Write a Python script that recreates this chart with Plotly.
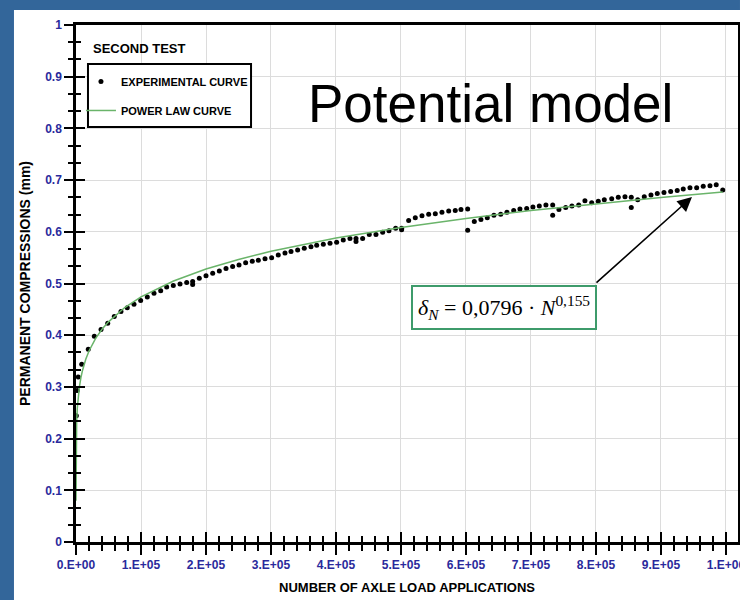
import plotly.graph_objects as go

# ---------------- data ----------------
exp_n = [500, 2000, 3500, 8800, 18900, 28200, 38500, 48800, 58900, 69200, 78900, 89200,
         99500, 109700, 120000, 130300, 139500, 149700, 160000, 170300, 179500, 179500,
         189700, 200000, 210300, 220500, 230800, 241000, 250800, 261000, 271200, 280500,
         290800, 301000, 311200, 321500, 330800, 341000, 351200, 361500, 370300, 380500,
         390800, 401000, 411200, 421500, 430800, 430800, 441000, 451200, 461500, 471800,
         481500, 491800, 501000, 501000, 511800, 522000, 532300, 542600, 552800, 563000,
         573400, 583500, 592300, 602600, 602600, 612800, 623000, 632800, 643000, 653400,
         663000, 673400, 683000, 693400, 703000, 712800, 723000, 733400, 733400, 743000,
         753400, 763000, 773400, 783000, 793400, 803500, 812800, 824200, 834300, 844600,
         854300, 854300, 864200, 874300, 884600, 894300, 904600, 914900, 925000, 934300,
         944600, 954900, 965000, 975400, 985000, 995000]
exp_d = [0.244, 0.293, 0.319, 0.344, 0.373, 0.398, 0.411, 0.423, 0.436, 0.446, 0.453, 0.460,
         0.467, 0.474, 0.481, 0.486, 0.493, 0.496, 0.499, 0.502, 0.504, 0.498,
         0.510, 0.515, 0.520, 0.524, 0.529, 0.533, 0.536, 0.540, 0.543, 0.545,
         0.548, 0.550, 0.555, 0.559, 0.562, 0.565, 0.568, 0.571, 0.574, 0.576,
         0.578, 0.580, 0.584, 0.587, 0.587, 0.581, 0.587, 0.595, 0.595, 0.599,
         0.602, 0.607, 0.607, 0.604, 0.622, 0.627, 0.631, 0.634, 0.635, 0.638,
         0.640, 0.641, 0.643, 0.644, 0.603, 0.620, 0.624, 0.627, 0.632, 0.634,
         0.638, 0.641, 0.644, 0.645, 0.648, 0.650, 0.652, 0.652, 0.632, 0.643,
         0.647, 0.650, 0.652, 0.660, 0.656, 0.659, 0.662, 0.664, 0.667, 0.668,
         0.667, 0.647, 0.662, 0.668, 0.671, 0.674, 0.676, 0.678, 0.680, 0.683,
         0.685, 0.685, 0.688, 0.689, 0.691, 0.681]

fit_n = [1, 10, 100, 500, 1000, 2000, 3000, 5000, 7500, 10000, 15000, 20000, 30000, 40000,
         50000, 75000, 100000, 150000, 200000, 250000, 300000, 400000, 500000, 600000,
         700000, 800000, 900000, 995000]
fit_d = [0.0796, 0.1137, 0.1625, 0.2086, 0.2322, 0.2586, 0.2753, 0.2980, 0.3174, 0.3318,
         0.3533, 0.3695, 0.3934, 0.4114, 0.4258, 0.4535, 0.4741, 0.5049, 0.5279, 0.5465,
         0.5622, 0.5878, 0.6085, 0.6259, 0.6411, 0.6545, 0.6665, 0.6770]

x_tickvals = [0, 100000, 200000, 300000, 400000, 500000, 600000, 700000, 800000, 900000, 1000000]
x_ticktext = ["0.E+00", "1.E+05", "2.E+05", "3.E+05", "4.E+05", "5.E+05",
              "6.E+05", "7.E+05", "8.E+05", "9.E+05", "1.E+06"]
y_tickvals = [0, 0.1, 0.2, 0.3, 0.4, 0.5, 0.6, 0.7, 0.8, 0.9, 1]
y_ticktext = ["0", "0.1", "0.2", "0.3", "0.4", "0.5", "0.6", "0.7", "0.8", "0.9", "1"]

FONT = "Arial, Liberation Sans, sans-serif"
NAVY = "#2A2A9C"
BLUE_BG = "#33669A"

fig = go.Figure()
fig.add_trace(go.Scatter(x=exp_n, y=exp_d, mode="markers", name="<b>EXPERIMENTAL CURVE</b>",
                         marker=dict(color="black", size=5), legendgroup="a"))
fig.add_trace(go.Scatter(x=fit_n, y=fit_d, mode="lines", name="<b>POWER LAW CURVE</b>",
                         line=dict(color="#6AB46A", width=1.5), legendgroup="b"))
# helper trace on the overlaid axes (for inward tick marks)
fig.add_trace(go.Scatter(x=[fit_n[0]], y=[fit_d[0]], xaxis="x2", yaxis="y2", mode="markers",
                         marker=dict(opacity=0), showlegend=False, hoverinfo="skip"))

XR = [0, 1018500]
common_x = dict(range=XR, tickvals=x_tickvals, ticklen=10, tickwidth=2, tickcolor="black",
                automargin=False,
                minor=dict(dtick=20000, ticklen=6, tickwidth=2, tickcolor="black"))
common_y = dict(range=[0, 1], tickvals=y_tickvals, ticklen=9, tickwidth=2, tickcolor="black",
                automargin=False,
                minor=dict(dtick=1/30, ticklen=5, tickwidth=2, tickcolor="black"))

fig.update_layout(
    width=740, height=600, autosize=False,
    margin=dict(l=76, r=2, t=25, b=58, autoexpand=False),
    paper_bgcolor="white", plot_bgcolor="white",
    showlegend=True,
    xaxis=dict(**common_x, ticks="outside", ticktext=x_ticktext,
               minor_ticks="outside", ticklabeloverflow="allow",
               showgrid=True, gridcolor="#DCDCDC", gridwidth=1,
               showline=True, linecolor="black", linewidth=2.5, mirror=True,
               zeroline=False,
               tickfont=dict(family=FONT, size=12, color=NAVY, weight="bold"),
               title=dict(text="<b>NUMBER OF AXLE LOAD APPLICATIONS</b>", standoff=12,
                          font=dict(family=FONT, size=13, color="black"))),
    yaxis=dict(**common_y, ticks="outside", ticktext=y_ticktext,
               minor_ticks="outside",
               showgrid=True, gridcolor="#DCDCDC", gridwidth=1,
               showline=True, linecolor="black", linewidth=2.5, mirror=True,
               zeroline=False,
               tickfont=dict(family=FONT, size=12, color=NAVY, weight="bold"),
               title=dict(text="<b>PERMANENT COMPRESSIONS (mm)</b>", standoff=12,
                          font=dict(family=FONT, size=14, color="black"))),
    xaxis2=dict(**common_x, overlaying="x", side="bottom", anchor="y2", ticks="inside",
                minor_ticks="inside", showticklabels=False, showgrid=False, zeroline=False),
    yaxis2=dict(**common_y, overlaying="y", side="left", anchor="x2", ticks="inside",
                minor_ticks="inside", showticklabels=False, showgrid=False, zeroline=False),
    legend=dict(x=0.0075, y=0.9188, xanchor="left", yanchor="top",
                bgcolor="rgba(0,0,0,0)", borderwidth=0,
                font=dict(family=FONT, size=11, color="black"),
                traceorder="grouped", tracegroupgap=10),
    shapes=[
        dict(type="rect", xref="paper", yref="paper", x0=-0.1148, x1=-0.0937,
             y0=-0.1122, y1=1.0484, fillcolor=BLUE_BG, line=dict(width=0)),
        dict(type="rect", xref="paper", yref="paper", x0=-0.1148, x1=1.003,
             y0=1.029, y1=1.0484, fillcolor=BLUE_BG, line=dict(width=0)),
        # legend frame
        dict(type="rect", xref="paper", yref="paper", x0=0.0181, x1=0.2644,
             y0=0.8027, y1=0.9246, fillcolor="white", layer="above",
             line=dict(color="black", width=2)),
    ],
    annotations=[
        dict(text="<b>SECOND TEST</b>", xref="paper", yref="paper", x=0.0227, y=0.9536,
             xanchor="left", yanchor="middle", showarrow=False,
             font=dict(family=FONT, size=13, color="black")),
        dict(text="Potential model", xref="paper", yref="paper", x=0.6254, y=0.8491,
             xanchor="center", yanchor="middle", showarrow=False,
             font=dict(family=FONT, size=53, color="black")),
        dict(text="<i>δ</i><sub><i>N</i></sub> = 0,0796 · <i>N</i><sup>0,155</sup>",
             xref="paper", yref="paper", x=0.6458, y=0.4545,
             xanchor="center", yanchor="middle", showarrow=False,
             bgcolor="white", bordercolor="#3E9B6B", borderwidth=2, borderpad=5,
             font=dict(family="Liberation Serif, Times New Roman, serif", size=22, color="black")),
        dict(text="", xref="x", yref="y", x=947700, y=0.6673, ax=-97, ay=87,
             showarrow=True, arrowhead=2, arrowsize=1.8, arrowwidth=1.6, arrowcolor="black"),
    ],
)

fig.write_html("out.html")
